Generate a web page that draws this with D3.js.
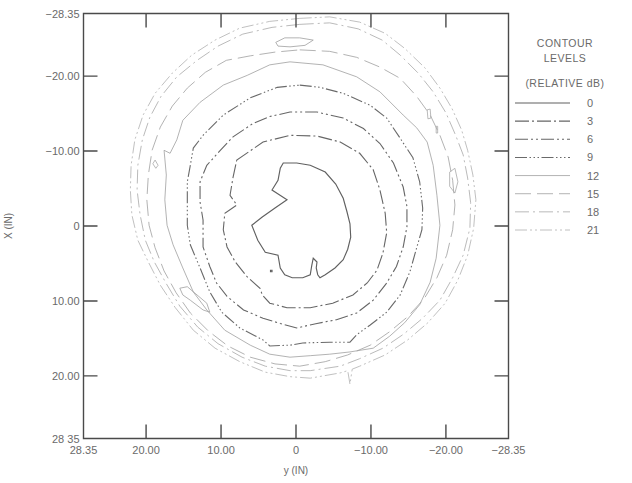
<!DOCTYPE html>
<html>
<head>
<meta charset="utf-8">
<script src="https://cdn.jsdelivr.net/npm/d3@7"></script>
<style>
  html, body { margin: 0; padding: 0; background: #fff; }
  svg { display: block; }
  text { font-family: "Liberation Sans", Arial, sans-serif; fill: #6a6a6a; }
</style>
</head>
<body>
<svg id="chart" width="632" height="483"></svg>
<script>
// contour levels (relative dB) and the traced rings, as [y (IN), x (IN)] pairs
const levels = [0, 3, 6, 9, 12, 15, 18, 21];

const ring0 = [
  [2.1,-7.7],[2.4,-6.1],[3.2,-4.8],[1.2,-3.5],[2.8,-2.4],[4.5,-1.2],[5.9,-0.1],
  [5.1,1.9],[4.1,3.5],[2.4,3.9],[2.1,5.6],[1.5,6.5],[0.5,6.9],[-0.9,6.9],
  [-1.9,6.5],[-2.1,5.3],[-2.3,4.3],[-2.8,4.8],[-2.7,5.6],[-2.9,6.5],[-3.2,6.9],
  [-3.9,6.5],[-5.2,5.6],[-6.3,4.5],[-6.9,3.1],[-7.3,1.5],[-7.2,-0.3],[-6.8,-1.9],
  [-6.3,-3.7],[-5.3,-5.6],[-3.9,-7.2],[-1.9,-8.1],[-0.1,-8.4],[1.7,-8.4]
];

const ring3 = [
  [7.9,-8.8],[4.4,-11.2],[0.8,-12.1],[-2.8,-12.0],[-5.9,-11.2],[-8.5,-9.7],
  [-10.3,-7.5],[-11.2,-4.8],[-11.9,-1.7],[-12.1,0.9],[-11.6,3.6],[-10.8,5.9],
  [-9.5,7.6],[-7.6,9.2],[-4.9,10.3],[-1.9,10.9],[1.2,10.9],[3.5,10.3],[4.5,9.2],
  [4.8,8.3],[6.5,6.8],[8.1,4.8],[9.2,2.8],[9.7,0.5],[9.5,-1.7],[7.9,-2.8],
  [8.8,-4.1],[8.4,-6.5]
];

const ring6 = [
  [8.4,-11.9],[5.7,-13.7],[3.5,-14.6],[0.8,-15.2],[-2.8,-15.2],[-6.3,-14.4],
  [-9.0,-13.0],[-11.2,-11.0],[-13.0,-8.4],[-14.3,-5.2],[-14.8,-2.6],[-14.8,0.1],
  [-14.3,2.8],[-13.4,5.4],[-12.1,7.6],[-10.3,9.9],[-8.1,11.6],[-5.4,12.5],
  [-2.8,13.0],[-0.1,13.6],[2.1,13.0],[4.4,12.3],[7.0,11.2],[9.2,9.4],[10.6,7.6],
  [11.5,5.4],[12.4,2.8],[12.4,-0.8],[12.8,-3.2],[12.8,-5.9],[11.9,-8.1],[10.1,-10.1]
];

const ring9 = [
  [-0.5,-18.8],[-3.2,-18.5],[-6.3,-17.7],[-9.9,-16.1],[-12.1,-14.4],[-13.9,-11.7],
  [-15.6,-9.1],[-16.5,-5.9],[-16.9,-2.4],[-16.8,0.5],[-16.1,2.9],[-15.2,6.1],
  [-13.9,9.2],[-12.1,11.5],[-9.9,13.2],[-8.1,14.5],[-7.2,15.5],[-4.5,15.5],
  [-0.9,15.6],[0.8,15.9],[3.5,16.0],[4.4,15.2],[7.5,13.6],[9.9,11.5],[11.5,8.8],
  [12.8,5.6],[14.1,2.5],[14.5,-0.1],[14.5,-3.2],[14.5,-5.9],[14.1,-8.1],
  [13.7,-10.4],[12.4,-12.1],[9.7,-14.8],[6.1,-17.1],[2.5,-18.5]
];

const ring12 = [
  [0.8,-21.9],[-3.6,-21.5],[-8.1,-19.9],[-11.2,-17.9],[-14.3,-14.8],[-16.1,-13.1],
  [-17.5,-11.2],[-18.3,-8.1],[-18.8,-4.1],[-19.2,-0.1],[-18.7,4.3],[-17.9,7.5],
  [-16.5,10.5],[-14.5,12.9],[-12.5,14.7],[-10.3,16.3],[-7.2,16.8],[-4.5,17.1],
  [-1.9,17.3],[0.8,17.5],[3.5,17.1],[6.1,15.9],[9.5,13.9],[11.9,11.2],[13.7,8.8],
  [15.1,5.6],[16.4,2.5],[17.2,-0.1],[17.5,-3.5],[17.3,-6.8],[17.6,-10.1],
  [16.8,-9.7],[15.9,-11.5],[15.1,-14.1],[12.8,-16.5],[9.7,-18.8],[6.5,-20.1],[3.5,-21.5]
];

const ring15 = [
  [-0.5,-23.5],[-4.5,-23.3],[-8.1,-22.5],[-11.2,-21.2],[-13.9,-19.7],[-16.1,-17.3],
  [-17.9,-14.8],[-19.2,-12.1],[-20.3,-9.2],[-20.9,-6.1],[-21.2,-2.8],[-20.9,0.5],
  [-20.1,3.9],[-18.8,6.9],[-17.1,9.7],[-14.9,12.1],[-12.5,14.1],[-9.9,15.9],
  [-6.9,17.2],[-3.9,18.1],[-0.5,18.7],[2.8,18.4],[6.1,17.5],[9.1,16.0],[11.7,14.0],
  [14.1,11.6],[16.0,8.9],[17.6,6.0],[18.8,2.9],[19.6,-0.1],[19.9,-3.5],[19.7,-6.8],
  [19.2,-10.1],[18.1,-13.2],[16.5,-16.0],[14.5,-18.4],[12.1,-20.5],[9.3,-22.1],
  [6.1,-22.7],[2.8,-23.2]
];

const ring18 = [
  [-0.5,-26.9],[-4.5,-27.1],[-8.3,-26.3],[-11.5,-24.8],[-13.9,-22.8],[-16.3,-20.4],
  [-18.3,-17.9],[-20.0,-15.1],[-21.3,-12.1],[-22.3,-9.5],[-22.9,-6.4],[-23.3,-3.1],
  [-23.2,0.3],[-22.3,3.9],[-20.9,6.9],[-19.2,9.9],[-16.9,12.3],[-14.4,14.4],
  [-11.6,16.3],[-8.5,17.7],[-5.9,18.7],[-1.9,19.3],[0.8,19.3],[4.1,18.7],[7.2,17.5],
  [10.4,15.7],[13.1,13.5],[15.5,10.7],[17.3,7.7],[18.9,4.8],[20.1,1.9],[20.8,-1.5],
  [21.2,-4.8],[21.1,-8.1],[20.5,-11.5],[19.5,-14.5],[18.0,-17.3],[15.9,-19.9],
  [13.2,-22.1],[10.4,-24.0],[7.1,-25.6],[3.2,-26.5]
];

const ring21 = [
  [-0.5,-27.7],[-4.5,-27.9],[-8.5,-27.2],[-11.9,-25.7],[-14.5,-23.7],[-17.2,-21.1],
  [-19.2,-18.4],[-20.8,-15.7],[-22.1,-12.8],[-22.9,-10.1],[-23.6,-6.8],[-24.0,-3.5],
  [-23.7,0.3],[-22.9,3.9],[-21.6,7.2],[-19.9,10.3],[-17.6,12.9],[-14.9,15.2],
  [-11.9,17.2],[-8.5,18.7],[-7.5,19.1],[-7.2,21.1],[-6.9,19.3],[-5.9,19.6],
  [-1.9,20.3],[0.8,20.1],[4.1,19.5],[7.5,18.1],[10.8,16.3],[13.7,13.9],[16.1,10.9],
  [18.1,7.9],[19.7,4.8],[21.1,1.9],[21.9,-1.5],[22.1,-4.8],[22.0,-8.1],[21.5,-11.5],
  [20.4,-14.8],[18.8,-17.7],[16.5,-20.4],[13.9,-22.8],[10.8,-24.8],[7.5,-26.4],[3.5,-27.3]
];

const rings = [ring0, ring3, ring6, ring9, ring12, ring15, ring18, ring21];

// small closed islands: level and points
const islandLevels = [15, 18, 18, 18, 18, 15, 0];
const islandPoints = [
  [[2.7,-24.5],[1.5,-25.1],[-0.5,-25.1],[-2.3,-24.8],[-1.2,-24.1],[0.8,-23.9],[2.4,-24.0]],
  [[-17.5,-15.5],[-17.9,-15.6],[-18.0,-14.4],[-17.6,-14.3]],
  [[-18.7,-13.3],[-18.9,-13.3],[-18.9,-12.4],[-18.7,-12.4]],
  [[-20.5,-7.2],[-21.2,-7.7],[-21.6,-5.9],[-21.2,-4.4],[-20.5,-5.3]],
  [[18.8,-8.8],[18.4,-8.1],[18.7,-7.7],[19.1,-8.3]],
  [[15.5,8.3],[14.5,8.1],[13.2,9.2],[11.9,10.3],[11.5,11.5],[12.4,11.2],[14.1,9.9],[15.1,9.2]],
  [[3.4,5.9],[3.2,5.9],[3.2,6.1],[3.4,6.1]]
];

const axisTicks = [-28.35, -20, -10, 0, 10, 20, 28.35];
const innerTicks = [-20, -10, 0, 10, 20];
const xTickLabels = ["28.35", "20.00", "10.00", "0", "\u221210.00", "\u221220.00", "\u221228.35"];
const yTickLabels = ["\u221228.35", "\u221220.00", "\u221210.00", "0", "10.00", "20.00", "28 35"];
const legendTitle = ["CONTOUR", "LEVELS", "(RELATIVE dB)"];

// line styles per level
const styles = {
  0:  { stroke: "#606060", width: 1.15, dash: null },
  3:  { stroke: "#666", width: 1.1, dash: "14,3,2,3" },
  6:  { stroke: "#666", width: 1.1, dash: "13,3,2,3,2,3" },
  9:  { stroke: "#6a6a6a", width: 1.1, dash: "12,2.5,1.5,2.5,1.5,2.5,1.5,2.5" },
  12: { stroke: "#a0a0a0", width: 0.8, dash: null },
  15: { stroke: "#a0a0a0", width: 0.8, dash: "16,6" },
  18: { stroke: "#a8a8a8", width: 0.8, dash: "14,4,2,4" },
  21: { stroke: "#b0b0b0", width: 0.8, dash: "12,3,2,3,2,3" }
};

const svg = d3.select("#chart");
const box = { left: 83.5, right: 508.5, top: 13.5, bottom: 438.5 };
const tickLen = 14;
const axisColor = "#4a4a4a";

const hScale = d3.scaleLinear().domain([28.35, -28.35]).range([box.left, box.right]);
const vScale = d3.scaleLinear().domain([-28.35, 28.35]).range([box.top, box.bottom]);

const line = d3.line()
  .x(d => hScale(d[0]))
  .y(d => vScale(d[1]))
  .curve(d3.curveLinearClosed);

const plot = svg.append("g");

rings.forEach((r, i) => {
  const s = styles[levels[i]];
  plot.append("path")
    .attr("d", line(r))
    .attr("fill", "none")
    .attr("stroke", s.stroke)
    .attr("stroke-width", s.width)
    .attr("stroke-dasharray", s.dash);
});

islandPoints.forEach((pts, i) => {
  const s = styles[islandLevels[i]];
  plot.append("path")
    .attr("d", line(pts))
    .attr("fill", "none")
    .attr("stroke", s.stroke)
    .attr("stroke-width", s.width);
});

// frame plus inward tick marks on all four sides, as one path
const frame = d3.path();
frame.rect(box.left, box.top, box.right - box.left, box.bottom - box.top);
innerTicks.forEach(t => {
  const hx = hScale(t), vy = vScale(t);
  frame.moveTo(hx, box.bottom); frame.lineTo(hx, box.bottom - tickLen);
  frame.moveTo(hx, box.top);    frame.lineTo(hx, box.top + tickLen);
  frame.moveTo(box.left, vy);   frame.lineTo(box.left + tickLen, vy);
  frame.moveTo(box.right, vy);  frame.lineTo(box.right - tickLen, vy);
});
svg.append("path")
  .attr("d", frame.toString())
  .attr("fill", "none")
  .attr("stroke", axisColor)
  .attr("stroke-width", 1.4);

// tick labels
svg.append("g").selectAll("text")
  .data(axisTicks)
  .join("text")
  .attr("x", box.left - 4)
  .attr("y", d => vScale(d) + 4)
  .attr("text-anchor", "end")
  .style("font-size", "11px")
  .text((d, i) => yTickLabels[i]);

svg.append("g").selectAll("text")
  .data(axisTicks.slice().reverse())
  .join("text")
  .attr("x", d => hScale(d))
  .attr("y", box.bottom + 15)
  .attr("text-anchor", "middle")
  .style("font-size", "11px")
  .text((d, i) => xTickLabels[i]);

svg.append("text")
  .attr("transform", `translate(12,${vScale(0)}) rotate(-90)`)
  .attr("text-anchor", "middle")
  .style("font-size", "10px")
  .text("X (IN)");

svg.append("text")
  .attr("x", hScale(0))
  .attr("y", 474)
  .attr("text-anchor", "middle")
  .style("font-size", "10px")
  .text("y (IN)");

// legend
const legend = svg.append("g");
const titleY = [47, 62, 87];
legendTitle.forEach((t, i) => {
  legend.append("text")
    .attr("x", 565)
    .attr("y", titleY[i])
    .attr("text-anchor", "middle")
    .style("font-size", "10.5px")
    .style("letter-spacing", "0.5px")
    .text(t);
});

const rowY = d3.scalePoint().domain(levels).range([103, 230]);
levels.forEach(lv => {
  const s = styles[lv];
  const y = rowY(lv);
  legend.append("line")
    .attr("x1", 515).attr("x2", 570)
    .attr("y1", y).attr("y2", y)
    .attr("stroke", s.stroke)
    .attr("stroke-width", s.width)
    .attr("stroke-dasharray", s.dash);
  legend.append("text")
    .attr("x", 587)
    .attr("y", y + 4)
    .style("font-size", "11px")
    .text(lv);
});
</script>
</body>
</html>
